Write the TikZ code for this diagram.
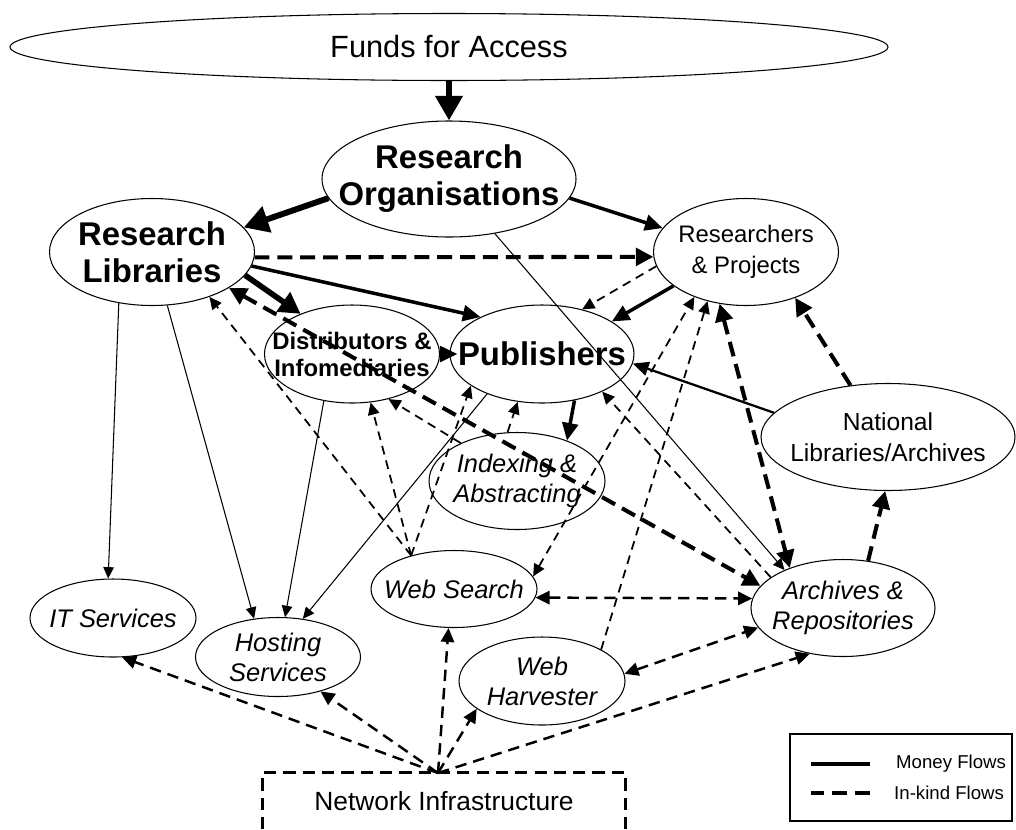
\documentclass[tikz,border=0pt]{standalone}
\usepackage{fontspec}
\setmainfont{Liberation Sans}
\usetikzlibrary{shapes.geometric,arrows.meta,calc}

\def\pxu{0.02cm}

\tikzset{
  ent/.style 2 args={draw, ellipse, line width=0.6pt, inner sep=0pt,
    minimum width=#1*\pxu, minimum height=#2*\pxu},
  bigname/.style={align=center, font=\fontsize{18.7}{21}\selectfont\bfseries},
  midname/.style={align=center, font=\fontsize{13.6}{15.4}\selectfont\bfseries},
  plainname/.style={align=center, font=\fontsize{14}{17.6}\selectfont},
  itname/.style={align=center, font=\fontsize{14.5}{17}\selectfont\itshape},
  % money flows (solid)
  mhuge/.style={line width=3.4pt, -{Triangle[length=14pt,width=15pt]}},
  mbig/.style={line width=3.2pt, -{Triangle[length=12pt,width=13pt]}},
  mthick/.style={line width=2pt, -{Triangle[length=10pt,width=9pt]}},
  mmid/.style={line width=1.3pt, -{Triangle[length=9pt,width=8pt]}},
  mthin/.style={line width=0.6pt, -{Triangle[length=6.5pt,width=6pt]}},
  % in-kind flows (dashed)
  kthick/.style={line width=2.3pt, dash pattern=on 8.5pt off 4.5pt,
    -{Triangle[length=10pt,width=10pt]}},
  kthick2/.style={kthick, {Triangle[length=10pt,width=10pt]}-{Triangle[length=10pt,width=10pt]}},
  kmid/.style={line width=1.4pt, dash pattern=on 6.5pt off 4pt,
    -{Triangle[length=8pt,width=7.5pt]}},
  kmid2/.style={kmid, {Triangle[length=8pt,width=7.5pt]}-{Triangle[length=8pt,width=7.5pt]}},
  kthin/.style={line width=1pt, dash pattern=on 5pt off 3.5pt,
    -{Triangle[length=7pt,width=6.5pt]}},
  kthin2/.style={kthin, {Triangle[length=7pt,width=6.5pt]}-{Triangle[length=7pt,width=6.5pt]}},
  netbox/.style={line width=1.6pt, dash pattern=on 7pt off 4pt},
}

\begin{document}
\begin{tikzpicture}[x=0.02cm, y=-0.02cm]

\useasboundingbox (0,0) rectangle (1016,829);

% --- ENTITIES (ellipses, text set on top) ---
\node[ent={878}{67}]  (funds)     at (449,47)  {};
\node[ent={254}{116}] (resorg)    at (449,179) {};
\node[ent={205}{107}] (reslib)    at (152,252) {};
\node[ent={185}{107}] (resproj)   at (746,252) {};
\node[ent={175}{98}]  (dist)      at (352,354) {};
\node[ent={184}{98}]  (pub)       at (542,354) {};
\node[ent={176}{97}]  (index)     at (517,481) {};
\node[ent={254}{107}] (natlib)    at (888,437) {};
\node[ent={166}{78}]  (itserv)    at (113,618) {};
\node[ent={165}{79}]  (host)      at (278,657) {};
\node[ent={166}{77}]  (websearch) at (454,589) {};
\node[ent={166}{88}]  (harvest)   at (542,681) {};
\node[ent={184}{97}]  (archive)   at (843,608) {};

\node[font=\fontsize{17.5}{21}\selectfont] (funds-t) at (funds) {Funds for Access};
\node[bigname]   (resorg-t)    at (resorg)    {Research\\Organisations};
\node[bigname]   (reslib-t)    at (reslib)    {Research\\Libraries};
\node[plainname, font=\fontsize{13.6}{17.6}\selectfont] (resproj-t) at (resproj) {Researchers\\\& Projects};
\node[midname]   (dist-t)      at (dist)      {Distributors \&\\Infomediaries};
\node[bigname]   (pub-t)       at (pub)       {Publishers};
\node[itname]    (index-t)     at (index)     {Indexing \&\\Abstracting};
\node[plainname] (natlib-t)    at (natlib)    {National\\Libraries/Archives};
\node[itname]    (itserv-t)    at (itserv)    {IT Services};
\node[itname]    (host-t)      at (host)      {Hosting\\Services};
\node[itname]    (websearch-t) at (websearch) {Web Search};
\node[itname]    (harvest-t)   at (harvest)   {Web\\Harvester};
\node[itname]    (archive-t)   at (archive)   {Archives \&\\Repositories};

% --- network box (bottom edge cut by the page) ---
\node[minimum width=362*\pxu, minimum height=56*\pxu, inner sep=0pt,
      font=\fontsize{15}{18}\selectfont] (net) at (444,801) {Network Infrastructure};
\draw[netbox] (net.south west) -- (net.north west) -- (net.north east) -- (net.south east);
\coordinate (hub) at (438,773);

% --- MONEY FLOWS ---
\draw[mhuge]  (funds) -- (resorg);
\draw[mhuge]  (resorg.189) -- (reslib.15);
\draw[mthick] (resorg.-9.5) -- (resproj.164);
\draw[mthick] (reslib.-8) -- (pub.149);
\draw[mbig]   (reslib.-14) -- (dist.142);
\draw[mthick, shorten >=-4.5pt] (dist.east) -- (pub.west);
\draw[mthick] (resproj.205) -- (pub.25.5);
\draw[mmid]   (natlib.168) -- (pub.-6.6);
\draw[mthick] (pub.-55) -- (index.39);
\draw[mthin]  (reslib.237) -- (itserv.97);
\draw[mthin]  (reslib.286) -- (host.122);
\draw[mthin]  (dist.239) -- (host.80);
\draw[mthin]  (pub.216) -- (host.57);
\draw[mthin]  (resorg.-50) -- (archive.147);

% --- IN-KIND FLOWS ---
\draw[kthick]  (reslib.-3) -- (resproj.183);
\draw[kthick2] (reslib.-25) -- (archive.165);
\draw[kthick2] (resproj.243) -- (archive.143);
\draw[kthick]  (natlib.126) -- (resproj.-43);
\draw[kthick]  (archive.62) -- (natlib.267);
\draw[kthin]   (websearch.142) -- (reslib.-38);
\draw[kthin]   (websearch.142) -- (dist.-69);
\draw[kthin]   (websearch.142) -- (pub.204);
\draw[kthin]   (resproj.189) -- (pub.48);
\draw[kthin]   (index.101) -- (pub.243);
\draw[kthin]   (index.146) -- (dist.-51);
\draw[kthin2]  (websearch.9) -- (resproj.221);
\draw[kthin]   (harvest.28) -- (resproj.232);
\draw[kthin]   (archive.157) -- (pub.-32);
\draw[kmid2]   (websearch.-6) -- (archive.174);
\draw[kmid2]   (harvest.5) -- (archive.193);
\draw[kmid]    (hub) -- (archive.234);
\draw[kmid]    (hub) -- (harvest.203);
\draw[kmid]    (hub) -- (websearch.262);
\draw[kmid]    (hub) -- (host.-39);
\draw[kmid]    (hub) -- (itserv.283);

% --- LEGEND ---
\node[draw, line width=0.6pt, minimum width=222*\pxu, minimum height=87*\pxu,
      inner sep=0pt] (legend) at (901,777.5) {};
\node[anchor=west, font=\fontsize{10.6}{12}\selectfont] (money-t) at (890,764) {Money Flows};
\node[anchor=west, font=\fontsize{10.6}{12}\selectfont] (kind-t)  at (888,793) {In-kind Flows};
\draw[line width=2pt] ([xshift=-0.4cm]money-t.west) -- ++(-59,0);
\draw[line width=2pt, dash pattern=on 8.5pt off 4.5pt] ([xshift=-0.36cm]kind-t.west) -- ++(-59,0);

\end{tikzpicture}
\end{document}
